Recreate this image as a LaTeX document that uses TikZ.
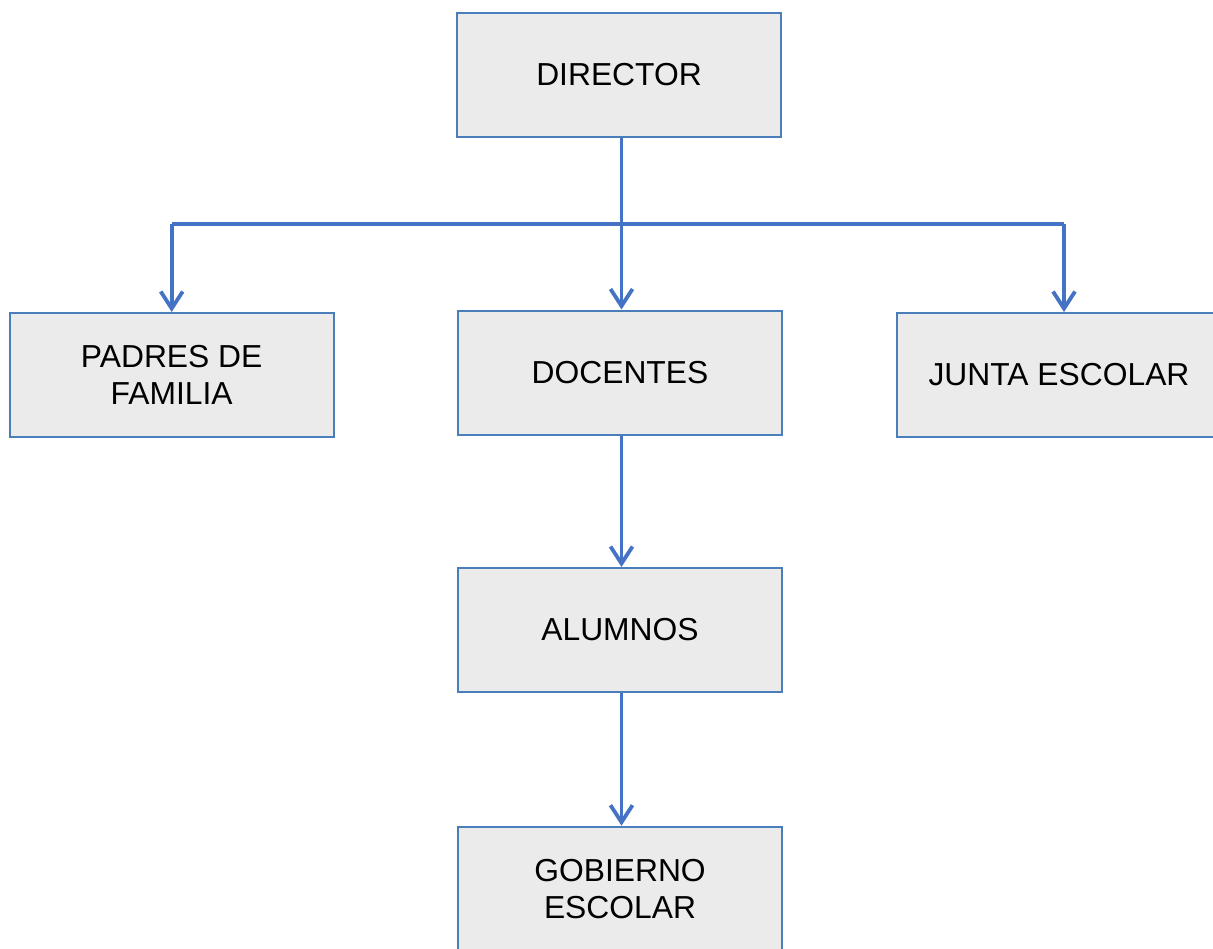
\documentclass[tikz,border=0pt]{standalone}
\usepackage{fontspec}
\setmainfont{Liberation Sans}
\usetikzlibrary{arrows.meta}
\definecolor{boxline}{HTML}{4A7EBB}
\definecolor{conn}{HTML}{4472C4}
\definecolor{boxfill}{HTML}{EBEBEB}
\tikzset{
  orgbox/.style={draw=boxline, line width=2pt, fill=boxfill, minimum width=324pt, minimum height=124pt, inner sep=0pt, align=center, font=\fontsize{31.8}{37}\selectfont, text=black},
  link/.style={draw=conn, line width=3.8pt, -{Straight Barb[length=17pt,width=22pt]}},
  plain/.style={draw=conn, line width=3.8pt}
}
\begin{document}
\begin{tikzpicture}[x=1pt,y=-1pt]
\useasboundingbox (0,0) rectangle (1213,948);
\clip (0,0) rectangle (1213,948);
\node[orgbox] (dir) at (619,74.5) {DIRECTOR};
\node[orgbox] (pad) at (171.7,375) {PADRES DE\\FAMILIA};
\node[orgbox] (doc) at (620,372.5) {DOCENTES};
\node[orgbox] (jun) at (1059,375) {JUNTA ESCOLAR};
\node[orgbox] (alu) at (620,630) {ALUMNOS};
\node[orgbox] (gob) at (620,888.7) {GOBIERNO\\ESCOLAR};
\coordinate (hl) at (171.7,224.3);
\coordinate (hr) at (1064,224.3);
\draw[plain] (hl) -- (hr);
\draw[link] (621.5,0 |- dir.south) -- (621.5,0 |- doc.north);
\draw[link] (hl) -- (hl |- pad.north);
\draw[link] (hr) -- (hr |- jun.north);
\draw[link] (621.5,0 |- doc.south) -- (621.5,0 |- alu.north);
\draw[link] (621.5,0 |- alu.south) -- (621.5,0 |- gob.north);
\end{tikzpicture}
\end{document}
